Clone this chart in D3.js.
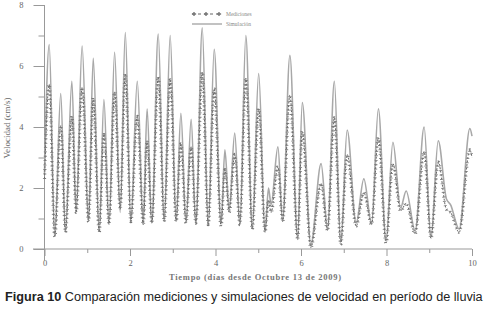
<!DOCTYPE html>
<html>
<head>
<meta charset="utf-8">
<script src="https://cdn.jsdelivr.net/npm/d3@7"></script>
<style>
  body { margin: 0; background: #fff; }
  .tick text { font-family: "Liberation Serif", serif; font-size: 8.5px; fill: #666; }
  .axis path, .axis line { stroke: #999; }
</style>
</head>
<body>
<div id="chart"></div>
<script>
// Simulación (días, cm/s) - picos y valles
const simDays = [0, 0.11, 0.24, 0.38, 0.49, 0.64, 0.74, 0.88, 1.03, 1.14, 1.28, 1.39, 1.51, 1.64, 1.77, 1.89,
  2.02, 2.17, 2.31, 2.40, 2.51, 2.66, 2.80, 2.94, 3.08, 3.19, 3.31, 3.43, 3.54, 3.69, 3.83, 3.97,
  4.13, 4.22, 4.32, 4.45, 4.57, 4.71, 4.86, 5.01, 5.16, 5.24, 5.30, 5.46, 5.57, 5.74, 5.92,
  6.03, 6.23, 6.47, 6.62, 6.78, 6.93, 7.08, 7.29, 7.47, 7.65, 7.81, 7.99,
  8.15, 8.33, 8.46, 8.67, 8.88, 9.04, 9.21, 9.40, 9.50, 9.70, 9.95, 10.0];
const simVel = [2.5, 6.7, 0.5, 5.1, 0.6, 5.5, 1.25, 6.65, 0.95, 6.25, 0.6, 4.9, 0.85, 6.45, 1.2, 7.1,
  0.95, 5.5, 0.9, 4.6, 0.85, 7.05, 0.95, 7.0, 0.95, 4.45, 0.9, 4.25, 0.85, 7.25, 0.85, 6.55,
  0.85, 3.25, 1.3, 3.8, 0.85, 7.0, 0.7, 5.75, 0.6, 2.0, 1.45, 3.35, 0.95, 6.35, 0.4,
  4.8, 0.15, 2.8, 0.7, 5.5, 0.25, 3.9, 0.85, 2.3, 0.85, 4.6, 0.3,
  3.5, 1.35, 1.9, 0.6, 4.0, 0.4, 3.55, 1.65, 1.45, 0.65, 3.95, 3.7];

// Mediciones
const medDays = simDays;
const medVel = [2.3, 5.4, 0.4, 4.05, 0.55, 4.35, 1.2, 5.3, 0.9, 4.95, 0.55, 3.75, 0.8, 5.15, 1.3, 5.75,
  0.9, 4.35, 0.8, 3.55, 0.85, 5.65, 0.9, 5.55, 0.9, 3.45, 0.85, 3.35, 0.85, 5.8, 0.8, 5.25,
  0.75, 2.6, 1.2, 3.1, 0.8, 5.6, 0.65, 4.6, 0.55, 1.6, 1.2, 2.7, 0.9, 5.05, 0.3,
  3.85, 0.05, 2.15, 0.6, 4.3, 0.15, 3.1, 0.75, 1.85, 0.8, 3.65, 0.2,
  2.8, 1.25, 1.5, 0.5, 3.2, 0.35, 2.85, 1.3, 1.2, 0.55, 3.25, 3.0];

const xMajor = [0, 2, 4, 6, 8, 10];
const xMinor = [1, 3, 5, 7, 9];
const yMajor = [0, 2, 4, 6, 8];
const yMinor = [1, 3, 5, 7];

const width = 489, height = 310;
const svg = d3.select('#chart').append('svg')
  .attr('width', width)
  .attr('height', height);

const x = d3.scaleLinear().domain([0, 10]).range([44.5, 472]);
const y = d3.scaleLinear().domain([0, 8]).range([249, 5]);

// Ejes
const yAxisMinor = d3.axisLeft(y).tickValues(yMinor).tickSize(6).tickFormat('');
const yAxisMajor = d3.axisLeft(y).tickValues(yMajor).tickSize(11).tickPadding(10).tickFormat(d3.format('d'));
const xAxisMinor = d3.axisBottom(x).tickValues(xMinor).tickSize(4).tickFormat('');
const xAxisMajor = d3.axisBottom(x).tickValues(xMajor).tickSize(7).tickPadding(4).tickFormat(d3.format('d'));

[yAxisMinor, yAxisMajor].forEach(ax => {
  const g = svg.append('g').attr('class', 'axis')
    .attr('transform', `translate(${x(0)},0)`)
    .call(ax);
  g.select('.domain').remove();
});
[xAxisMinor, xAxisMajor].forEach(ax => {
  const g = svg.append('g').attr('class', 'axis')
    .attr('transform', `translate(0,${y(0)})`)
    .call(ax);
  g.select('.domain').remove();
});

// Líneas de los ejes
svg.append('line')
  .attr('x1', x(0)).attr('x2', x(0))
  .attr('y1', y(8)).attr('y2', y(0) + 12)
  .attr('stroke', '#999');
svg.append('line')
  .attr('x1', 33).attr('x2', x(10))
  .attr('y1', y(0)).attr('y2', y(0))
  .attr('stroke', '#999');

// Series
const line = d3.line()
  .x(d => x(d[0]))
  .y(d => y(d[1]))
  .curve(d3.curveMonotoneX);

const simData = d3.zip(simDays, simVel);
const medData = d3.zip(medDays, medVel);

svg.append('path')
  .datum(simData)
  .attr('d', line)
  .attr('fill', 'none')
  .attr('stroke', '#a8a8a8')
  .attr('stroke-width', 1.6);

// mediciones: línea discontinua con marcas "+"
svg.append('path')
  .datum(medData)
  .attr('d', line)
  .attr('fill', 'none')
  .attr('stroke', '#666')
  .attr('stroke-width', 1)
  .attr('stroke-dasharray', '2,1.5');
svg.append('path')
  .datum(medData)
  .attr('d', line)
  .attr('fill', 'none')
  .attr('stroke', '#777')
  .attr('stroke-width', 3.2)
  .attr('stroke-dasharray', '0.8,3.6');

// Leyenda
const legend = svg.append('g');
legend.append('line')
  .attr('x1', 192).attr('x2', 222).attr('y1', 14).attr('y2', 14)
  .attr('stroke', '#666').attr('stroke-dasharray', '3,3');
[194, 206, 219].forEach(px => {
  legend.append('path')
    .attr('d', d3.symbol(d3.symbolCross, 10)())
    .attr('transform', `translate(${px},14)`)
    .attr('fill', '#777');
});
legend.append('line')
  .attr('x1', 192).attr('x2', 222).attr('y1', 24).attr('y2', 24)
  .attr('stroke', '#a8a8a8').attr('stroke-width', 1.4);
legend.append('text')
  .attr('x', 226).attr('y', 16)
  .attr('font-family', 'Liberation Serif, serif').attr('font-size', 5.5)
  .attr('fill', '#888')
  .text('Mediciones');
legend.append('text')
  .attr('x', 226).attr('y', 26)
  .attr('font-family', 'Liberation Serif, serif').attr('font-size', 5.5)
  .attr('fill', '#888')
  .text('Simulación');

// Títulos de ejes
svg.append('text')
  .attr('transform', 'translate(10,128) rotate(-90)')
  .attr('text-anchor', 'middle')
  .attr('font-family', 'Liberation Serif, serif')
  .attr('font-size', 9)
  .attr('fill', '#666')
  .text('Velocidad (cm/s)');

svg.append('text')
  .attr('x', 255).attr('y', 279.5)
  .attr('text-anchor', 'middle')
  .attr('font-family', 'Liberation Serif, serif')
  .attr('font-size', 8.5)
  .attr('font-weight', 'bold')
  .attr('fill', '#777')
  .attr('textLength', 172)
  .attr('lengthAdjust', 'spacing')
  .text('Tiempo (días desde Octubre 13 de 2009)');

// Pie de figura (fuente estrecha: se comprime en horizontal para caber en 478px)
const caption = svg.append('text')
  .attr('font-family', '"Liberation Sans", Arial, sans-serif')
  .attr('font-size', 13.5)
  .attr('fill', '#222');
caption.append('tspan').attr('font-weight', 'bold').text('Figura 10');
caption.append('tspan').text(' Comparación mediciones y simulaciones de velocidad en período de lluvia');
const capW = caption.node().getComputedTextLength();
caption.attr('transform', `translate(5,301) scale(${478 / capW},1)`);
</script>
</body>
</html>
